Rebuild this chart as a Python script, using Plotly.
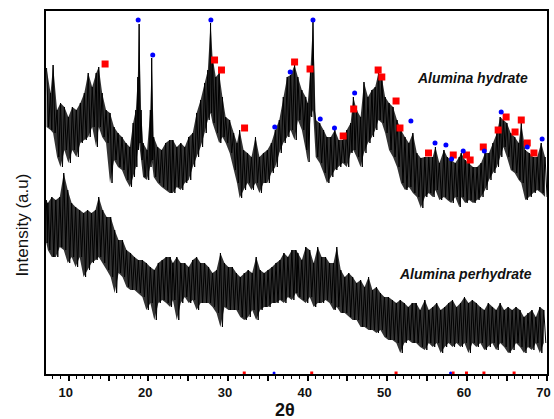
import plotly.graph_objects as go

# ---------------- data (intensity in a.u.) ----------------
hyd_theta = [7.22, 7.72, 8.04, 8.54, 8.97, 9.46, 9.96, 10.46, 10.96, 11.46, 11.96, 12.45, 12.95, 13.45, 13.77,
             14.20, 14.69, 15.19, 15.69, 16.19, 16.69, 17.19, 17.68, 18.09, 18.43, 18.68, 18.84, 19.09, 19.34,
             19.84, 20.25, 20.42, 20.67, 21.17, 21.67, 22.17, 22.67, 23.08, 23.57, 24.07, 24.57, 25.07, 25.57,
             26.06, 26.56, 27.06, 27.47, 27.81, 28.06, 28.47, 28.89, 29.30, 29.71, 30.21, 30.71, 31.13, 31.46,
             31.96, 32.45, 32.95, 33.45, 33.95, 34.45, 34.94, 35.44, 35.94, 36.44, 36.94, 37.43, 37.86, 38.36,
             38.77, 39.27, 39.76, 40.01, 40.35, 40.67, 41.01, 41.51, 42.00, 42.42, 42.91, 43.41, 43.91, 44.41,
             44.91, 45.40, 45.74, 46.15, 46.65, 47.07, 47.57, 48.07, 48.48, 48.89, 49.32, 49.73, 50.22, 50.72,
             51.22, 51.72, 52.22, 52.71, 53.21, 53.71, 54.21, 54.71, 55.21, 55.70, 56.04, 56.54, 57.11, 57.53,
             58.03, 58.53, 59.03, 59.28, 59.78, 60.27, 60.77, 61.27, 61.77, 62.27, 62.77, 63.26, 63.76, 64.17,
             64.58, 65.01, 65.50, 66.00, 66.50, 66.82, 67.32, 67.82, 68.32, 68.82, 69.32, 69.81]
hyd_high = [306, 281, 309, 264, 271, 267, 257, 267, 264, 271, 281, 301, 287, 301, 307,
            281, 264, 261, 247, 241, 237, 231, 227, 251, 264, 297, 350, 264, 231,
            224, 264, 316, 237, 227, 224, 231, 234, 234, 227, 231, 227, 237, 241,
            261, 274, 291, 304, 351, 317, 297, 301, 277, 257, 254, 241, 231, 244,
            224, 221, 217, 237, 217, 221, 224, 231, 244, 254, 277, 297, 299, 309,
            297, 284, 277, 271, 304, 352, 254, 251, 244, 237, 237, 244, 234, 234,
            244, 251, 277, 264, 257, 292, 277, 284, 287, 301, 296, 277, 271, 267,
            254, 244, 237, 231, 241, 221, 216, 217, 217, 217, 227, 211, 224, 217,
            214, 211, 217, 221, 214, 211, 207, 207, 211, 221, 221, 231, 241, 257,
            254, 251, 241, 237, 231, 251, 224, 221, 217, 217, 231, 217]
hyd_low = [247, 244, 241, 217, 207, 224, 211, 224, 217, 231, 234, 237, 247, 227, 247,
           237, 231, 191, 214, 207, 204, 194, 187, 197, 207, 224, 231, 214, 197,
           194, 207, 214, 197, 191, 187, 184, 181, 181, 187, 184, 191, 194, 207,
           217, 227, 241, 254, 261, 251, 241, 231, 237, 231, 221, 204, 191, 176,
           184, 191, 184, 191, 181, 191, 191, 201, 207, 221, 231, 237, 244, 234,
           254, 244, 224, 212, 257, 264, 217, 211, 201, 191, 197, 204, 207, 211,
           207, 221, 224, 217, 207, 221, 231, 237, 244, 254, 251, 241, 224, 217,
           207, 191, 184, 187, 181, 177, 166, 177, 181, 177, 184, 174, 177, 174,
           171, 177, 167, 177, 171, 174, 171, 174, 177, 184, 194, 201, 207, 217,
           227, 217, 204, 201, 194, 191, 174, 177, 181, 184, 181, 177]

per_theta = [7.20, 7.38, 7.88, 8.38, 8.88, 9.38, 9.88, 10.37, 10.87, 11.37, 11.87, 12.37, 12.86, 13.36, 13.77,
             14.27, 14.77, 15.27, 15.77, 16.26, 16.76, 17.26, 17.76, 18.26, 18.75, 19.25, 19.75, 20.25, 20.75,
             21.25, 21.74, 22.24, 22.74, 23.08, 23.57, 24.07, 24.57, 25.07, 25.57, 26.06, 26.56, 27.06, 27.56,
             28.06, 28.56, 29.05, 29.55, 30.05, 30.55, 31.05, 31.54, 32.04, 32.54, 33.04, 33.54, 34.03, 34.53,
             35.03, 35.53, 36.03, 36.53, 37.02, 37.52, 38.02, 38.52, 38.77, 39.27, 39.76, 40.26, 40.76, 41.26,
             41.76, 42.25, 42.75, 43.25, 43.66, 44.16, 44.66, 45.16, 45.65, 46.15, 46.65, 47.15, 47.65, 48.14,
             48.64, 49.14, 49.64, 50.14, 50.64, 51.13, 51.63, 52.13, 52.63, 53.13, 53.62, 54.12, 54.71, 55.21,
             55.70, 56.20, 56.70, 57.20, 57.70, 58.19, 58.69, 59.19, 59.69, 60.19, 60.68, 61.18, 61.68, 62.18,
             62.68, 63.18, 63.67, 64.17, 64.67, 65.17, 65.67, 66.16, 66.66, 67.16, 67.66, 68.16, 68.65, 69.15,
             69.65]
per_high = [174, 171, 177, 174, 177, 201, 184, 171, 167, 164, 161, 164, 161, 164, 177,
            164, 157, 157, 144, 134, 134, 124, 121, 117, 114, 114, 111, 107, 104,
            111, 114, 117, 117, 111, 117, 111, 111, 107, 114, 117, 111, 111, 107,
            101, 104, 121, 111, 107, 107, 101, 97, 101, 104, 101, 117, 104, 101,
            104, 107, 111, 114, 121, 117, 124, 124, 121, 114, 127, 124, 111, 127,
            117, 117, 111, 111, 127, 104, 97, 101, 97, 91, 94, 87, 97, 84,
            87, 81, 77, 77, 74, 71, 74, 71, 67, 71, 71, 64, 74, 64,
            67, 71, 64, 67, 71, 74, 67, 71, 77, 71, 74, 71, 67, 64,
            71, 67, 64, 71, 64, 67, 64, 67, 64, 57, 61, 64, 57, 67,
            64]
per_low = [131, 124, 117, 117, 127, 124, 111, 117, 107, 117, 97, 104, 111, 114, 117,
           111, 104, 97, 81, 101, 97, 87, 84, 84, 81, 77, 64, 71, 54,
           71, 74, 71, 67, 74, 54, 71, 77, 71, 74, 64, 71, 71, 71,
           67, 61, 47, 67, 64, 64, 64, 57, 54, 57, 64, 54, 64, 67,
           67, 71, 71, 74, 71, 77, 74, 81, 77, 74, 71, 77, 67, 71,
           71, 74, 71, 64, 67, 61, 61, 57, 54, 54, 47, 47, 44, 44,
           41, 44, 37, 34, 34, 31, 21, 31, 34, 31, 31, 27, 24, 31,
           27, 31, 21, 27, 31, 27, 31, 27, 31, 21, 31, 27, 31, 24,
           27, 31, 24, 31, 27, 21, 24, 31, 27, 21, 27, 24, 31, 21,
           31]

# phase markers (2theta, intensity)
red_theta = [14.57, 28.31, 29.18, 32.08, 38.36, 40.30, 44.46, 45.78, 48.85, 49.31, 51.10, 51.59,
             55.17, 58.28, 59.94, 60.40, 62.05, 63.92, 64.92, 66.04, 66.82, 67.57, 68.41]
red_int = [310, 314, 304, 246, 312, 305, 238, 265, 304, 297, 273, 246,
           221, 219, 219, 214, 227, 244, 257, 242, 254, 231, 221]
blue_theta = [18.72, 20.55, 27.85, 35.87, 37.81, 40.67, 41.58, 43.37, 45.90, 52.96, 55.99, 57.36,
              58.07, 59.53, 62.18, 64.30, 67.57, 69.44]
blue_int = [354, 319, 354, 247, 302, 354, 255, 246, 281, 253, 231, 229,
            215, 223, 223, 262, 227, 235]
# small markers sitting on the baseline (perhydrate)
red_base_theta = [32.04, 40.51, 51.10, 58.26, 59.94, 62.13, 65.92]
blue_base_theta = [35.78, 57.94]

x_ticks = [10, 15, 20, 25, 30, 35, 40, 45, 50, 55, 60, 65, 70]
x_tick_text = ["10", "", "20", "", "30", "", "40", "", "50", "", "60", "", "70"]


def zigzag(theta, hi, lo):
    xs, ys = [], []
    for i in range(len(theta)):
        step = (theta[i + 1] - theta[i]) if i + 1 < len(theta) else (theta[i] - theta[i - 1])
        xs += [theta[i], theta[i] + step / 2]
        ys += [hi[i], lo[i]]
    return xs, ys


def band(theta, hi, lo):
    return list(theta) + list(theta[::-1]), list(hi) + list(lo[::-1])


fig = go.Figure()
for th, hi, lo, nm in [(hyd_theta, hyd_high, hyd_low, "Alumina hydrate"),
                       (per_theta, per_high, per_low, "Alumina perhydrate")]:
    bx, by = band(th, hi, lo)
    fig.add_trace(go.Scatter(x=bx, y=by, mode="lines", fill="toself", fillcolor="rgba(0,0,0,0.8)",
                             line=dict(width=0), hoverinfo="skip", showlegend=False))
    zx, zy = zigzag(th, hi, lo)
    fig.add_trace(go.Scatter(x=zx, y=zy, mode="lines", line=dict(color="black", width=1),
                             name=nm, showlegend=False))

fig.add_trace(go.Scatter(x=red_theta, y=red_int, mode="markers",
                         marker=dict(symbol="square", size=7, color="#ff0000"), showlegend=False))
fig.add_trace(go.Scatter(x=blue_theta, y=blue_int, mode="markers",
                         marker=dict(symbol="circle", size=5, color="#0000ff"), showlegend=False))
fig.add_trace(go.Scatter(x=red_base_theta, y=[1] * len(red_base_theta), mode="markers",
                         marker=dict(symbol="square", size=3, color="#ff0000"), showlegend=False,
                         cliponaxis=False))
fig.add_trace(go.Scatter(x=blue_base_theta, y=[1] * len(blue_base_theta), mode="markers",
                         marker=dict(symbol="circle", size=3, color="#0000ff"), showlegend=False,
                         cliponaxis=False))

fig.update_layout(
    width=554, height=419,
    margin=dict(l=46, r=3, t=11, b=45),
    paper_bgcolor="white", plot_bgcolor="white",
    hovermode=False,
    font=dict(family="Liberation Sans, Arial, sans-serif", color="black"),
    xaxis=dict(range=[7.15, 70.05], showline=True, mirror=True, linecolor="black", linewidth=2,
               showgrid=False, zeroline=False, ticks="outside", ticklen=5, tickwidth=1.5,
               tickcolor="black", tickvals=x_ticks, ticktext=x_tick_text, ticklabelshift=-3,
               tickfont=dict(size=13, weight="bold", color="#111"),
               minor=dict(dtick=1, ticks="outside", ticklen=2.5, tickwidth=1, tickcolor="black")),
    yaxis=dict(range=[0, 363], showline=True, mirror=True, linecolor="black", linewidth=2,
               showgrid=False, zeroline=False, showticklabels=False, ticks=""),
    annotations=[
        dict(text="<b>2θ</b>", x=0.478, y=-0.10, xref="paper", yref="paper", showarrow=False,
             font=dict(size=18, color="#111"), xanchor="center", yanchor="middle"),
        dict(text="Intensity (a.u)", x=-0.047, y=0.41, xref="paper", yref="paper", showarrow=False,
             textangle=-90, font=dict(size=17, color="#111"), xanchor="center", yanchor="middle"),
        dict(text="<b><i>Alumina hydrate</i></b>", x=0.8505, y=0.8168, xref="paper", yref="paper",
             showarrow=False, font=dict(size=14, color="#111"), xanchor="center", yanchor="middle"),
        dict(text="<b><i>Alumina perhydrate</i></b>", x=0.8366, y=0.2755, xref="paper", yref="paper",
             showarrow=False, font=dict(size=14, color="#111"), xanchor="center", yanchor="middle"),
    ],
)

fig.write_html("out.html", config={"displayModeBar": False},
               post_script="document.body.style.margin='0';")
